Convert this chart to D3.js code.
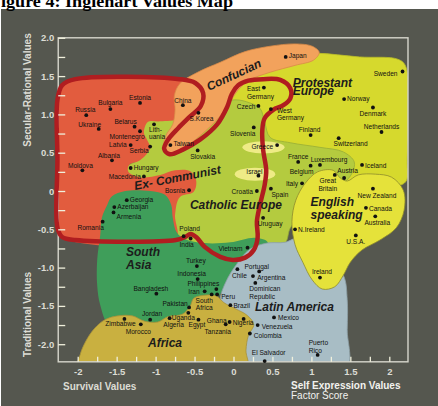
<!DOCTYPE html>
<html>
<head>
<meta charset="utf-8">
<script src="https://cdn.jsdelivr.net/npm/d3@7"></script>
<style>
  body { margin: 0; background: #fff; }
  svg { display: block; }
</style>
</head>
<body>
<svg id="chart" width="438" height="406"></svg>
<script>
// country scores: [name, survival/self-expression, traditional/secular-rational]
var countryScores = [
  ["Russia", -1.89, 0.99], ["Bulgaria", -1.58, 1.07], ["Estonia", -1.20, 1.15],
  ["Ukraine", -1.73, 0.81], ["Belarus", -1.27, 0.84], ["Lithuania", -1.02, 0.87],
  ["Montenegro", -1.20, 0.78], ["Latvia", -1.32, 0.60], ["Serbia", -1.07, 0.58],
  ["Albania", -1.56, 0.40], ["Moldova", -1.94, 0.27], ["Hungary", -1.32, 0.30],
  ["Macedonia", -1.15, 0.19], ["Bosnia", -0.57, 0.01], ["Georgia", -1.37, -0.12],
  ["Azerbaijan", -1.53, -0.21], ["Armenia", -1.54, -0.28], ["Romania", -1.68, -0.40],
  ["Poland", -0.64, -0.59], ["Slovakia", -0.46, 0.53], ["China", -0.65, 1.12],
  ["S.Korea", -0.45, 1.02], ["Taiwan", -0.81, 0.60], ["Japan", 0.67, 1.75],
  ["East Germany", 0.39, 1.35], ["Czech", 0.32, 1.11], ["Slovenia", 0.26, 0.83],
  ["West Germany", 0.48, 1.07], ["Sweden", 2.17, 1.56], ["Norway", 1.42, 1.20],
  ["Denmark", 1.79, 1.09], ["Netherlands", 1.90, 0.77], ["Finland", 0.99, 0.73],
  ["Switzerland", 1.35, 0.69], ["Iceland", 1.65, 0.34], ["Greece", 0.56, 0.60],
  ["Israel", 0.32, 0.20], ["Croatia", 0.30, 0.00], ["Spain", 0.48, 0.03],
  ["France", 0.83, 0.38], ["Belgium", 0.99, 0.33], ["Luxembourg", 1.11, 0.34],
  ["Austria", 1.42, 0.17], ["Italy", 0.88, 0.10], ["Uruguay", 0.38, -0.35],
  ["Great Britain", 1.30, 0.21], ["New Zealand", 1.79, 0.03], ["Canada", 1.70, -0.22],
  ["Australia", 1.82, -0.33], ["N.Ireland", 0.79, -0.50], ["U.S.A.", 1.57, -0.58],
  ["Ireland", 1.11, -1.13], ["India", -0.55, -0.62], ["Vietnam", 0.18, -0.74],
  ["Turkey", -0.47, -0.98], ["Indonesia", -0.46, -1.15], ["Philippines", -0.22, -1.28],
  ["Iran", -0.37, -1.31], ["Bangladesh", -0.99, -1.34], ["Pakistan", -0.57, -1.52],
  ["Portugal", 0.05, -1.02], ["Argentina", 0.33, -1.05], ["Chile", 0.25, -1.11],
  ["Dominican Republic", 0.28, -1.20], ["Peru", -0.21, -1.35], ["Brazil", -0.04, -1.49],
  ["Mexico", 0.52, -1.65], ["Venezuela", 0.31, -1.75], ["Colombia", 0.21, -1.86],
  ["El Salvador", 0.40, -2.22], ["Puerto Rico", 1.08, -2.14], ["South Africa", -0.28, -1.35],
  ["Uganda", -0.58, -1.59], ["Egypt", -0.45, -1.68], ["Algeria", -0.82, -1.66],
  ["Ghana", -0.05, -1.71], ["Nigeria", 0.13, -1.67], ["Tanzania", -0.10, -1.74],
  ["Jordan", -1.07, -1.68], ["Zimbabwe", -1.40, -1.67], ["Morocco", -1.19, -1.74]
];

var xTickValues = [-2, -1.5, -1, -0.5, 0, 0.5, 1, 1.5, 2];
var xTickLabels = ["-2", "-1.5", "-1", "-0.5", "0", "0.5", "1", "1.5", "2"];
var yTickValues = [2, 1.5, 1, 0.5, 0, -0.5, -1, -1.5, -2];
var yTickLabels = ["2.0", "1.5", "1.0", "0.5", "0", "-0.5", "-1.0", "-1.5", "-2.0"];

// cultural zone outlines, in factor score units
var zoneProtestant = [[-0.02,1.19],[0.06,1.51],[0.47,1.78],[1.05,1.80],[1.62,1.75],[2.11,1.72],
  [2.21,1.63],[2.23,0.40],[2.21,0.12],[2.00,0.05],[1.60,0.08],[1.37,0.14],[0.85,0.27],[0.37,0.54],[0.08,0.86]];
var zoneCatholic = [[-1.16,0.90],[-0.88,0.95],[-0.43,1.08],[0.02,1.19],[0.21,1.15],[0.34,1.08],
  [0.40,0.90],[0.47,0.70],[0.73,0.63],[1.11,0.57],[1.41,0.51],[1.55,0.38],[1.52,0.23],[1.41,0.10],
  [1.17,-0.05],[0.92,-0.25],[0.73,-0.48],[0.66,-0.68],[0.44,-0.72],[-0.04,-0.72],[-0.43,-0.71],
  [-0.71,-0.59],[-0.79,-0.31],[-0.82,-0.12],[-1.07,0.01],[-1.35,0.08],[-1.38,0.30],[-1.20,0.43],[-1.16,0.67]];
var zoneExCommunist = [[-2.25,1.19],[-2.23,1.37],[-2.07,1.46],[-0.69,1.46],[-0.53,1.40],[-0.53,1.19],
  [-0.69,0.95],[-0.94,0.91],[-1.10,0.90],[-1.15,0.76],[-1.11,0.67],[-1.07,0.56],[-1.20,0.40],
  [-1.34,0.34],[-1.35,0.25],[-1.20,0.18],[-0.94,0.21],[-0.75,0.27],[-0.56,0.26],[-0.48,0.14],
  [-0.51,-0.01],[-0.69,-0.08],[-0.75,-0.31],[-0.74,-0.64],[-2.10,-0.65],[-2.25,-0.54]];
var zoneSouthAsia = [[-1.62,-0.18],[-1.56,-0.07],[-1.39,0.00],[-1.07,0.00],[-0.88,-0.05],[-0.80,-0.18],
  [-0.78,-0.35],[-0.73,-0.54],[-0.62,-0.63],[-0.37,-0.68],[-0.04,-0.67],[0.28,-0.61],[0.44,-0.67],
  [0.37,-0.80],[0.15,-0.93],[-0.02,-1.06],[-0.12,-1.27],[-0.24,-1.42],[-0.56,-1.58],[-1.07,-1.75],
  [-1.59,-1.75],[-1.71,-1.49],[-1.75,-1.23],[-1.75,-0.90],[-1.71,-0.57],[-1.69,-0.35]];
var zoneLatin = [[-0.17,-1.40],[-0.10,-1.19],[0.03,-0.97],[0.21,-0.76],[0.43,-0.68],[0.66,-0.67],
  [0.85,-0.61],[1.17,-0.84],[1.41,-1.10],[1.46,-1.42],[1.46,-1.81],[1.44,-2.34],[0.05,-2.34],
  [-0.05,-1.80],[-0.15,-1.55]];
var zoneEnglish = [[0.75,-0.40],[0.80,-0.12],[0.92,0.10],[1.08,0.25],[1.28,0.27],[1.37,0.17],
  [1.46,0.13],[1.60,0.21],[1.82,0.22],[2.03,0.18],[2.18,0.01],[2.19,-0.25],[2.09,-0.48],[1.88,-0.64],
  [1.65,-0.77],[1.50,-0.93],[1.41,-1.10],[1.30,-1.25],[1.14,-1.28],[1.01,-1.16],[0.89,-0.93],[0.79,-0.70]];
var zoneAfrica = [[-2.00,-2.34],[-1.97,-2.14],[-1.89,-1.95],[-1.78,-1.79],[-1.65,-1.68],[-1.48,-1.63],
  [-1.30,-1.63],[-1.14,-1.70],[-0.97,-1.71],[-0.84,-1.64],[-0.66,-1.61],[-0.56,-1.51],[-0.51,-1.40],
  [-0.37,-1.36],[-0.22,-1.37],[-0.12,-1.46],[0.03,-1.54],[0.17,-1.62],[0.26,-1.74],[0.19,-1.89],
  [0.16,-2.08],[0.17,-2.34]];
var zoneConfucian = [[-0.90,0.56],[-0.87,0.72],[-0.78,0.87],[-0.75,1.06],[-0.76,1.24],[-0.69,1.40],
  [-0.46,1.55],[-0.17,1.68],[0.15,1.82],[0.47,1.89],[0.79,1.92],[1.01,1.89],[1.10,1.81],[1.03,1.71],
  [0.79,1.64],[0.47,1.55],[0.21,1.45],[0.06,1.32],[-0.07,1.12],[-0.24,0.90],[-0.49,0.67],[-0.71,0.50],[-0.87,0.48]];
// ex-communist border line
var borderExCommunist = [[-2.26,-0.48],[-2.26,0.40],[-2.26,1.19],[-2.20,1.38],[-2.03,1.46],[-0.69,1.46],
  [-0.49,1.41],[-0.39,1.28],[-0.42,1.11],[-0.56,0.97],[-0.71,0.82],[-0.84,0.67],[-0.89,0.55],
  [-0.82,0.48],[-0.65,0.54],[-0.43,0.67],[-0.21,0.87],[-0.08,1.10],[-0.02,1.27],[0.06,1.38],
  [0.19,1.44],[0.38,1.46],[0.60,1.45],[0.73,1.34],[0.73,1.21],[0.64,1.12],[0.51,1.06],[0.40,0.95],
  [0.37,0.80],[0.38,0.54],[0.42,0.27],[0.40,0.08],[0.34,-0.18],[0.30,-0.40],[0.31,-0.61],[0.26,-0.77],
  [0.15,-0.87],[-0.01,-0.90],[-0.17,-0.86],[-0.37,-0.73],[-0.47,-0.61],[-0.55,-0.56],[-0.62,-0.60],
  [-0.74,-0.64],[-2.03,-0.64],[-2.20,-0.60]];
// small pale patches (Greece, Israel): centre and radii in score units
var palePatches = [[0.385, 0.57, 0.27, 0.08], [0.276, 0.22, 0.26, 0.085]];

// label placement next to each dot: [dx, dy, anchor, lines]
var labelPlace = {
  "Russia": [-1,-5,"m"], "Bulgaria": [0,-6.5,"m"], "Estonia": [0,-5,"m"], "Ukraine": [-9,-4.5,"m"],
  "Belarus": [-9,-5,"m"], "Lithuania": [-5,5,"s",["Lith-","uania"]], "Montenegro": [-13,5.7,"m"],
  "Latvia": [-4,0,"e"], "Serbia": [-11,4.5,"m"], "Albania": [-3,-5,"m"], "Moldova": [-2,-5,"m"],
  "Hungary": [3,0,"s"], "Macedonia": [-3,0,"e"], "Bosnia": [-4,0,"e"], "Georgia": [3,0,"s"],
  "Azerbaijan": [3,0,"s"], "Armenia": [3,4,"s"], "Romania": [-12,6,"m"], "Poland": [6,-7,"m"],
  "Slovakia": [5,6.5,"m"], "China": [0,-5,"m"], "S.Korea": [3,6,"m"], "Taiwan": [3,-1.5,"s"],
  "Japan": [3,-1,"s"], "East Germany": [-17,1.5,"s",["East","Germany"]], "Czech": [-3,1,"e"],
  "Slovenia": [-11,6,"m"], "West Germany": [6,1.5,"s",["West","Germany"]], "Sweden": [-5,2,"e"],
  "Norway": [3,0,"s"], "Denmark": [0,6.5,"m"], "Netherlands": [0,-5,"m"], "Finland": [-1,-5.5,"m"],
  "Switzerland": [12,5.5,"m"], "Iceland": [3,1,"s"], "Greece": [-4,2,"e"], "Israel": [-4,-3.5,"m"],
  "Croatia": [-4,1,"e"], "Spain": [9,6,"m"], "France": [0,-5,"m"], "Belgium": [-9,5.5,"m"],
  "Luxembourg": [9,-5,"m"], "Austria": [3.5,-7,"m"], "Italy": [-4,0,"e"], "Uruguay": [7,5.5,"m"],
  "Great Britain": [-7,6,"m",["Great","Britain"]], "New Zealand": [4,6.5,"m"], "Canada": [3,1,"s"],
  "Australia": [2,6.5,"m"], "N.Ireland": [3,0,"s"], "U.S.A.": [0,6,"m"], "Ireland": [2,-5.5,"m"],
  "India": [-4,6.5,"m"], "Vietnam": [-5,1,"e"], "Turkey": [-1,-5,"m"], "Indonesia": [-6,-5,"m"],
  "Philippines": [-13,-5,"m"], "Iran": [-5,0,"e"], "Bangladesh": [-5.5,-5,"m"], "Pakistan": [-14,-4,"m"],
  "Portugal": [7,-2.5,"s"], "Argentina": [-2,6.5,"s"], "Chile": [-6,0,"e"],
  "Dominican Republic": [-6,6,"s",["Dominican","Republic"]], "Peru": [4,2,"s"], "Brazil": [3,1,"s"],
  "Mexico": [4,0,"s"], "Venezuela": [4,2,"s"], "Colombia": [4,2,"s"], "El Salvador": [4,-8,"m"],
  "Puerto Rico": [-9,-12,"s",["Puerto","Rico"]], "South Africa": [-7.5,6,"m",["South","Africa"]],
  "Uganda": [-5,4.5,"m"], "Egypt": [-1.5,5,"m"], "Algeria": [4,6.5,"m"], "Ghana": [-3,-1,"e"],
  "Nigeria": [-11,3.5,"s"], "Tanzania": [-8,7.7,"m"], "Jordan": [2,-6,"m"], "Zimbabwe": [-4,5,"m"],
  "Morocco": [-2.5,7,"m"]
};

// zone names: [text, x, y (baseline), rotation]
var zoneLabels = [
  ["Protestant", 0.76, 1.354, 0], ["Europe", 0.76, 1.253, 0], ["Catholic Europe", -0.56, -0.235, 0],
  ["English", 0.99, -0.19, 0], ["speaking", 0.99, -0.37, 0], ["South", -1.38, -0.849, 0],
  ["Asia", -1.38, -1.018, 0], ["Latin America", 0.276, -1.573, 0], ["Africa", -1.098, -2.043, 0],
  ["Confucian", -0.315, 1.305, -25], ["Ex- Communist", -1.264, 0.013, -11]
];

var svg = d3.select("#chart");
var sans = "'Liberation Sans', Arial, sans-serif";

var x = d3.scaleLinear().domain([-2, 2]).range([77.7, 389.3]);
var y = d3.scaleLinear().domain([-2, 2]).range([344.2, 37.8]);
var frameL = x(-2.25), frameR = x(2.24), frameT = y(2), frameB = y(-2.23);

svg.append("rect").attr("x", 1).attr("y", 9).attr("width", 437).attr("height", 397).attr("fill", "#55574f");

svg.append("text")
  .attr("x", 1).attr("y", 7)
  .attr("textLength", 232).attr("lengthAdjust", "spacingAndGlyphs")
  .style("font", "bold 16px 'Liberation Serif', 'Times New Roman', serif")
  .attr("fill", "#000")
  .text("igure 4: Inglehart Values Map");

svg.append("clipPath").attr("id", "plotClip")
  .append("rect").attr("x", frameL).attr("y", frameT).attr("width", frameR - frameL).attr("height", frameB - frameT);

var shape = d3.line().x(function(d) { return x(d[0]); }).y(function(d) { return y(d[1]); })
  .curve(d3.curveCatmullRomClosed.alpha(0.5));

var zones = svg.append("g").attr("clip-path", "url(#plotClip)");
var zoneList = [
  [zoneProtestant, "#d6d92d", "#b8bb2a"],
  [zoneCatholic, "#b4cb3f", "#98ad36"],
  [zoneExCommunist, "#e25c3e", "none"],
  [zoneSouthAsia, "#3f9e5a", "none"],
  [zoneLatin, "#a8bdc5", "#8d9fa6"],
  [zoneEnglish, "#e5e23a", "#8e8c2c"],
  [zoneAfrica, "#c9b040", "#a8923a"],
  [zoneConfucian, "#f2a25c", "#d98a48"]
];
zoneList.forEach(function(z) {
  zones.append("path").attr("d", shape(z[0]))
    .attr("fill", z[1]).attr("stroke", z[2]).attr("stroke-width", 0.8);
});
zones.selectAll("ellipse").data(palePatches).enter().append("ellipse")
  .attr("cx", function(d) { return x(d[0]); })
  .attr("cy", function(d) { return y(d[1]); })
  .attr("rx", function(d) { return x(d[2]) - x(0); })
  .attr("ry", function(d) { return y(0) - y(d[3]); })
  .attr("fill", "#eeeb86");

// plot frame
svg.append("rect").attr("x", frameL).attr("y", frameT).attr("width", frameR - frameL).attr("height", frameB - frameT)
  .attr("fill", "none").attr("stroke", "#d6d6cc").attr("stroke-width", 1.4);

svg.append("path").attr("d", shape(borderExCommunist))
  .attr("fill", "none").attr("stroke", "#b01d20").attr("stroke-width", 4.5);

// axes
var quarterTicks = d3.range(-8, 9).map(function(k) { return k / 4; });
var yAxis = d3.axisLeft(y).tickValues(quarterTicks).tickSizeInner(-7).tickSizeOuter(0).tickPadding(4)
  .tickFormat(function(d) { var i = yTickValues.indexOf(d); return i < 0 ? "" : yTickLabels[i]; });
var xAxis = d3.axisBottom(x).tickValues(quarterTicks).tickSizeInner(-5).tickSizeOuter(0).tickPadding(6)
  .tickFormat(function(d) { var i = xTickValues.indexOf(d); return i < 0 ? "" : xTickLabels[i]; });

function styleAxis(g) {
  g.select(".domain").remove();
  g.selectAll("line").attr("stroke", "#f0f0dc").attr("stroke-width", 1.3);
  g.selectAll("text").attr("fill", "#dcdcd4").style("font", "bold 9.5px " + sans);
}
svg.append("g").attr("transform", "translate(" + frameL + ",0)").call(yAxis).call(styleAxis);
svg.append("g").attr("transform", "translate(0," + frameB + ")").call(xAxis).call(styleAxis);

// axis titles
var titleFont = "bold 10px " + sans;
svg.append("text").attr("transform", "translate(31,90) rotate(-90)").attr("text-anchor", "middle")
  .attr("fill", "#dcdcd4").style("font", titleFont).text("Secular-Rational Values");
svg.append("text").attr("transform", "translate(31,314.5) rotate(-90)").attr("text-anchor", "middle")
  .attr("fill", "#dcdcd4").style("font", titleFont).text("Traditional Values");
svg.append("text").attr("x", 63).attr("y", 389.5).attr("fill", "#dcdcd4").style("font", titleFont)
  .text("Survival Values");
svg.append("text").attr("x", 291).attr("y", 389).attr("fill", "#f2f2ee").style("font", titleFont)
  .text("Self Expression Values");
svg.append("text").attr("x", 291).attr("y", 399).attr("fill", "#f2f2ee").style("font", "10px " + sans)
  .text("Factor Score");

// countries
var anchors = { s: "start", m: "middle", e: "end" };
var pts = svg.append("g");
countryScores.forEach(function(c) {
  var px = x(c[1]), py = y(c[2]);
  pts.append("circle").attr("cx", px).attr("cy", py).attr("r", 1.9).attr("fill", "#111");
  var p = labelPlace[c[0]] || [3, 0, "s"];
  var lines = p[3] || [c[0]];
  lines.forEach(function(t, i) {
    pts.append("text")
      .attr("x", px + p[0]).attr("y", py + p[1] + i * 7.6 + 2.3)
      .attr("text-anchor", anchors[p[2]])
      .attr("fill", "#111").style("font", "6.6px " + sans)
      .text(t);
  });
});

// zone names
zoneLabels.forEach(function(z) {
  svg.append("text")
    .attr("transform", "translate(" + x(z[1]) + "," + y(z[2]) + ") rotate(" + z[3] + ")")
    .attr("fill", "#1c1c1c").style("font", "italic bold 12px " + sans)
    .text(z[0]);
});
</script>
</body>
</html>
